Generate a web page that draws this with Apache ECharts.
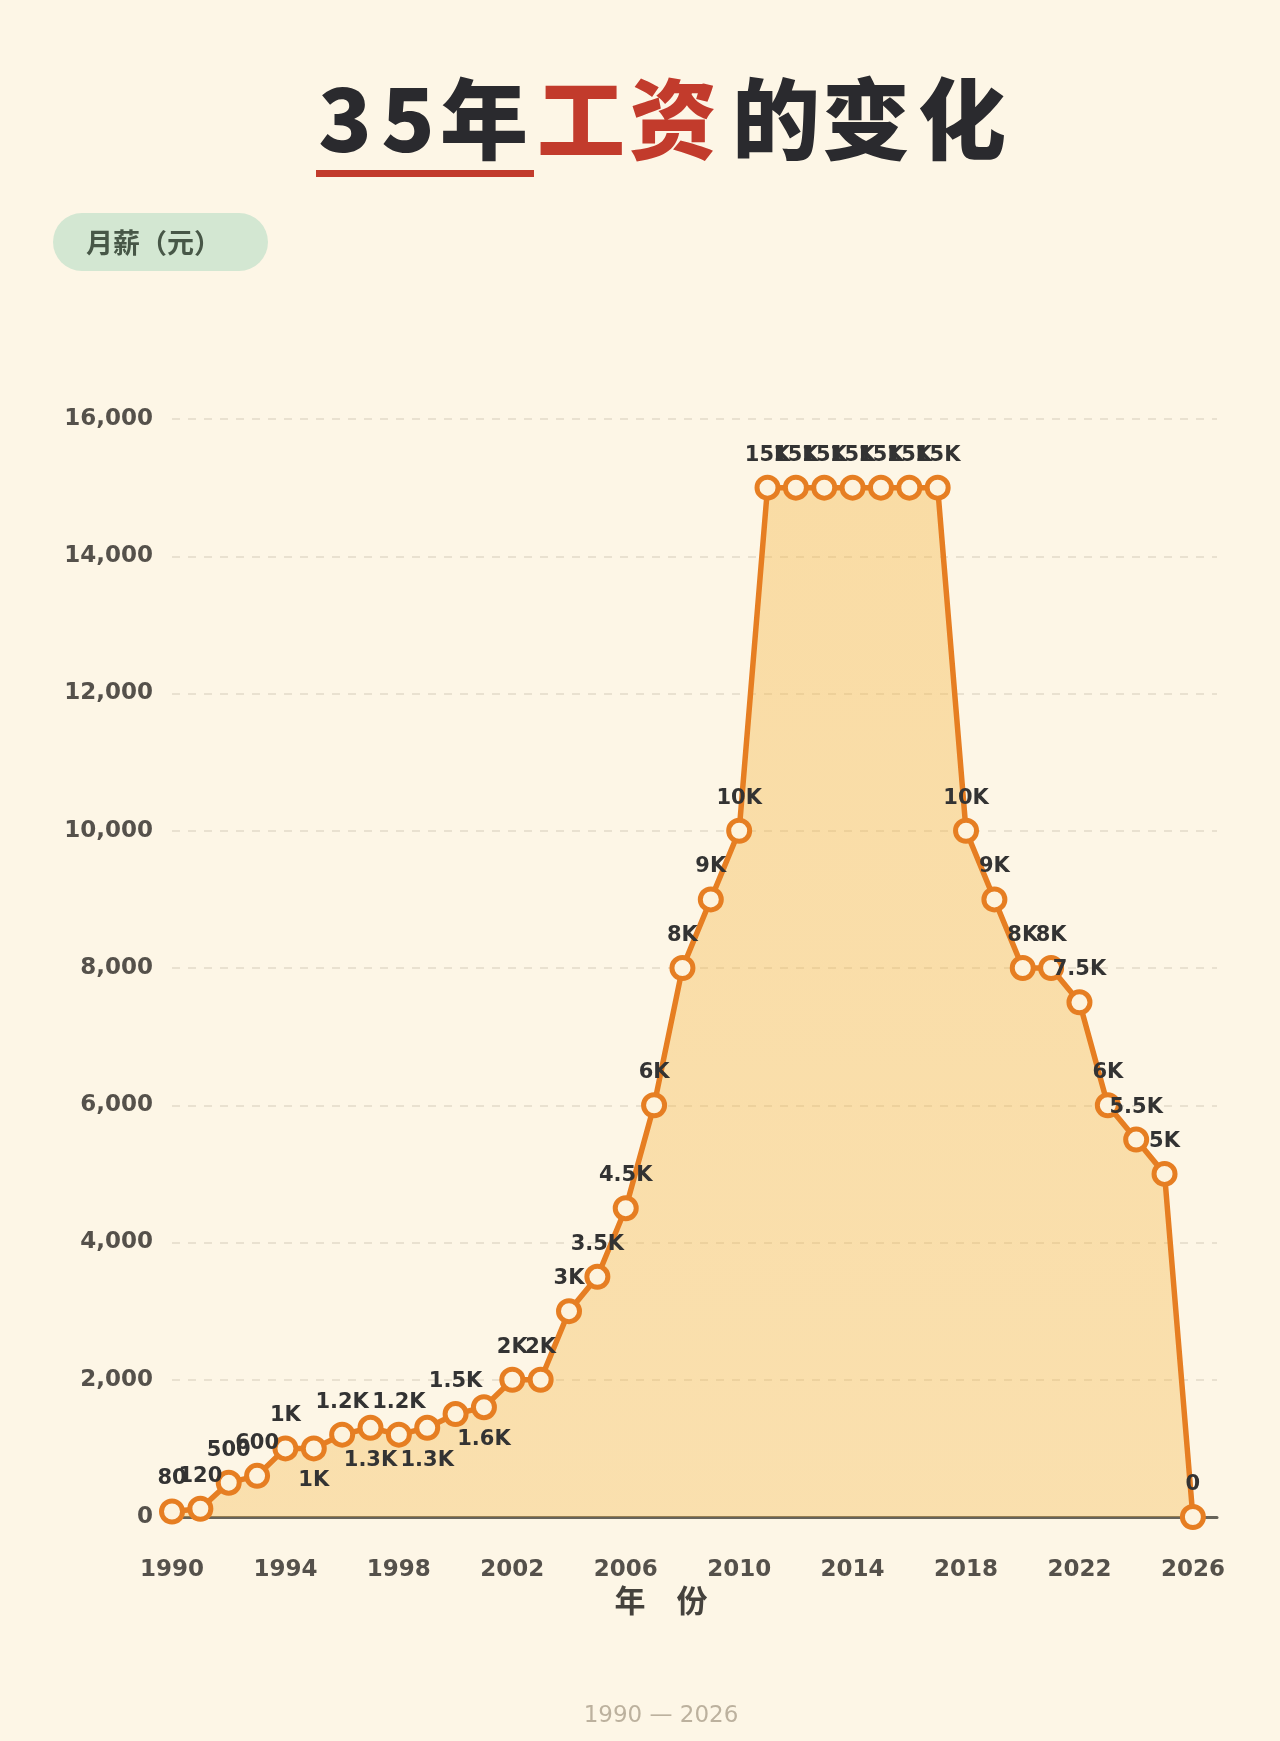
<!DOCTYPE html>
<html>
<head>
<meta charset="utf-8">
<script src="https://cdn.jsdelivr.net/npm/echarts@6/dist/echarts.min.js"></script>
<style>
  html, body { margin: 0; padding: 0; background: #fdf6e6; }
  #chart { width: 1280px; height: 1741px; }
</style>
</head>
<body>
<div id="chart"></div>
<script>
// ---- data ----
const years = [1990,1991,1992,1993,1994,1995,1996,1997,1998,1999,2000,2001,2002,2003,2004,2005,2006,2007,2008,2009,2010,2011,2012,2013,2014,2015,2016,2017,2018,2019,2020,2021,2022,2023,2024,2025,2026];
const salary = [80,120,500,600,1000,1000,1200,1300,1200,1300,1500,1600,2000,2000,3000,3500,4500,6000,8000,9000,10000,15000,15000,15000,15000,15000,15000,15000,10000,9000,8000,8000,7500,6000,5500,5000,0];
const labelBelowYears = [1995,1997,1999,2001];
const yTicks = [0,2000,4000,6000,8000,10000,12000,14000,16000];
const titleChars = ['3','5','年','工','资','的','变','化'];
const titleRed = ['工','资'];

const fmtK = v => v >= 1000 ? (v/1000) + 'K' : String(v);

const seriesData = years.map((y, i) => {
  const d = { value: [y, salary[i]] };
  if (labelBelowYears.indexOf(y) >= 0) d.label = { position: 'bottom' };
  return d;
});

// title character centers (layout only)
const titleX = [345, 408, 484, 581, 673, 776, 866, 962];
const titleGraphics = titleChars.map((c, i) => ({
  type: 'text', x: titleX[i], y: 119,
  style: {
    text: c,
    textAlign: 'center', textVerticalAlign: 'middle',
    fill: titleRed.indexOf(c) >= 0 ? '#c23b2c' : '#2a2a2e',
    font: '900 88px "Noto Sans CJK SC"'
  }
}));

const chart = echarts.init(document.getElementById('chart'), null, { renderer: 'canvas' });
chart.setOption({
  backgroundColor: '#fdf6e6',
  animation: false,
  graphic: titleGraphics.concat([
    { type: 'rect', shape: { x: 316, y: 170, width: 218, height: 7 }, style: { fill: '#c23b2c' } },
    { type: 'rect', shape: { x: 53, y: 213, width: 215, height: 58, r: 29 }, style: { fill: '#d3e7d2' } },
    { type: 'text', x: 86, y: 243, style: { text: '月薪（元）', textVerticalAlign: 'middle', fill: '#475747', font: '700 27px "Noto Sans CJK SC"' } },
    { type: 'text', x: 661, y: 1600, style: { text: '年　份', textAlign: 'center', textVerticalAlign: 'middle', fill: '#45423d', font: '700 31px "Noto Sans CJK SC"' } },
    { type: 'text', x: 661, y: 1716, style: { text: '1990 — 2026', textAlign: 'center', textVerticalAlign: 'middle', fill: '#bcb19e', font: '400 23px "DejaVu Sans"' } }
  ]),
  grid: { left: 172, right: 63, top: 419, bottom: 224, containLabel: false },
  xAxis: {
    type: 'value',
    min: 1990, max: 2026.85, interval: 4,
    axisLine: { show: true, lineStyle: { color: '#67645a', width: 3 } },
    axisTick: { show: false },
    splitLine: { show: false },
    axisLabel: {
      showMaxLabel: false,
      margin: 42,
      color: '#55514b',
      fontFamily: 'DejaVu Sans', fontWeight: 'bold', fontSize: 23,
      formatter: v => String(v)
    }
  },
  yAxis: {
    type: 'value',
    min: yTicks[0], max: yTicks[yTicks.length - 1], interval: 2000,
    axisLine: { show: false },
    axisTick: { show: false },
    splitLine: { show: true, lineStyle: { type: [8, 8], color: '#e2dac9', width: 1.5 } },
    axisLabel: {
      margin: 19,
      color: '#55514b',
      fontFamily: 'DejaVu Sans', fontWeight: 'bold', fontSize: 23,
      formatter: v => v.toLocaleString('en-US')
    }
  },
  series: [{
    type: 'line',
    data: seriesData,
    symbol: 'circle',
    symbolSize: 21,
    lineStyle: { color: '#e67e22', width: 5.5 },
    itemStyle: { color: '#fdf3de', borderColor: '#e67e22', borderWidth: 5 },
    areaStyle: {
      color: { type: 'linear', x: 0, y: 0, x2: 0, y2: 1, colorStops: [
        { offset: 0, color: 'rgba(244,182,70,0.58)' },
        { offset: 1, color: 'rgba(244,182,70,0.50)' }
      ] }
    },
    label: {
      show: true, position: 'top', distance: 9,
      color: '#333333',
      fontFamily: 'DejaVu Sans', fontWeight: 'bold', fontSize: 21,
      formatter: p => fmtK(p.value[1])
    },
    labelLayout: { hideOverlap: false },
    z: 3
  }]
});
</script>
</body>
</html>
